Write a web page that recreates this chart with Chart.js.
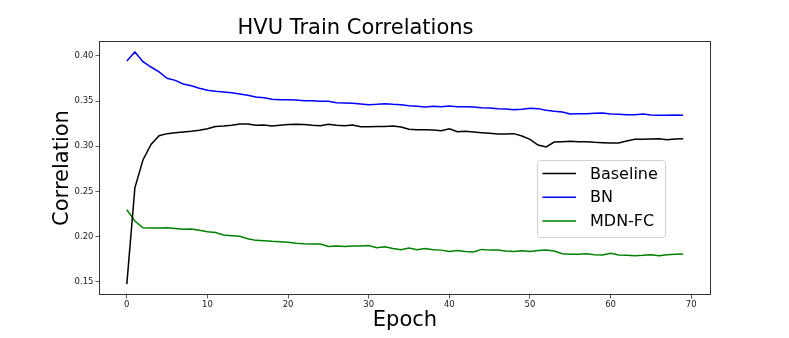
<!DOCTYPE html>
<html>
<head>
<meta charset="utf-8">
<script src="https://cdn.jsdelivr.net/npm/chart.js@4/dist/chart.umd.min.js"></script>
<style>
    html, body { margin: 0; padding: 0; background: #fff; }
    #wrap { width: 789px; height: 338px; }
</style>
</head>
<body>
<div id="wrap"><canvas id="trainCorrelations"></canvas></div>
<script>
const epochs = [0, 1, 2, 3, 4, 5, 6, 7, 8, 9, 10, 11, 12, 13, 14, 15, 16, 17, 18, 19,
    20, 21, 22, 23, 24, 25, 26, 27, 28, 29, 30, 31, 32, 33, 34, 35, 36, 37, 38, 39,
    40, 41, 42, 43, 44, 45, 46, 47, 48, 49, 50, 51, 52, 53, 54, 55, 56, 57, 58, 59,
    60, 61, 62, 63, 64, 65, 66, 67, 68, 69];

const baseline = [0.1474, 0.254, 0.2848, 0.302, 0.3117, 0.314, 0.315, 0.3158, 0.3166, 0.3177,
    0.3195, 0.322, 0.3224, 0.3232, 0.3247, 0.3247, 0.3232, 0.3236, 0.3224, 0.3232,
    0.324, 0.3243, 0.3242, 0.3232, 0.3228, 0.3243, 0.3232, 0.3228, 0.3236, 0.3217,
    0.3217, 0.322, 0.322, 0.3224, 0.3213, 0.3188, 0.3184, 0.3184, 0.318, 0.3173,
    0.3195, 0.3162, 0.3166, 0.3158, 0.3151, 0.3144, 0.3136, 0.3136, 0.314, 0.3114,
    0.3077, 0.3014, 0.2992, 0.3047, 0.3051, 0.3055, 0.3051, 0.3051, 0.3044, 0.304,
    0.3036, 0.3036, 0.3058, 0.3077, 0.3077, 0.308, 0.3084, 0.3073, 0.308, 0.3084];

const bn = [0.3945, 0.4044, 0.3937, 0.3878, 0.3823, 0.3753, 0.373, 0.369, 0.3671, 0.3642,
    0.362, 0.3609, 0.3601, 0.3594, 0.3579, 0.3564, 0.3546, 0.3538, 0.352, 0.3516,
    0.3516, 0.3513, 0.3505, 0.3505, 0.3498, 0.3498, 0.3483, 0.348, 0.3476, 0.3468,
    0.3461, 0.3465, 0.3472, 0.3465, 0.3461, 0.345, 0.3443, 0.3435, 0.3443, 0.3439,
    0.3446, 0.3439, 0.3439, 0.3435, 0.3428, 0.3424, 0.3417, 0.3413, 0.3406, 0.3409,
    0.3421, 0.3417, 0.3398, 0.3387, 0.338, 0.3358, 0.3361, 0.3361, 0.3365, 0.3369,
    0.3358, 0.3354, 0.335, 0.335, 0.3358, 0.3347, 0.3343, 0.3343, 0.3347, 0.3343];

const mdnFc = [0.2297, 0.2172, 0.2098, 0.2095, 0.2095, 0.2098, 0.209, 0.208, 0.2083, 0.2069,
    0.2054, 0.2046, 0.2017, 0.201, 0.2003, 0.1977, 0.1958, 0.1954, 0.1947, 0.1943,
    0.1936, 0.1925, 0.1921, 0.1919, 0.1917, 0.1891, 0.1895, 0.1891, 0.1895, 0.1895,
    0.1902, 0.1876, 0.1887, 0.1869, 0.1854, 0.1872, 0.1854, 0.1869, 0.1854, 0.185,
    0.1836, 0.1847, 0.1836, 0.1829, 0.1858, 0.185, 0.185, 0.184, 0.1836, 0.1843,
    0.1836, 0.1847, 0.185, 0.184, 0.181, 0.1803, 0.1803, 0.181, 0.18, 0.1796,
    0.1814, 0.1796, 0.1792, 0.1788, 0.1792, 0.18, 0.1788, 0.18, 0.1803, 0.1807];

const seriesNames = ['Baseline', 'BN', 'MDN-FC'];
const seriesColors = ['#000000', '#0000ff', '#008000'];
const xTicks = [0, 10, 20, 30, 40, 50, 60, 70];
const yTicks = [0.15, 0.20, 0.25, 0.30, 0.35, 0.40];

const fonte = 'DejaVu Sans';
const corEixo = '#333333';

function montaPontos(valores) {
    return valores.map((v, i) => ({ x: epochs[i], y: v }));
}

function montaDatasets() {
    let todos = [baseline, bn, mdnFc];
    let datasets = [];
    for (let i = 0; i < todos.length; i++) {
        datasets.push({
            label: seriesNames[i],
            data: montaPontos(todos[i]),
            borderColor: seriesColors[i],
            backgroundColor: seriesColors[i],
            borderWidth: 1.5,
            pointRadius: 0,
            tension: 0,
            fill: false
        });
    }
    return datasets;
}

// moldura em volta da area do grafico (estilo matplotlib)
const molduraPlugin = {
    id: 'moldura',
    afterDatasetsDraw(chart) {
        const a = chart.chartArea;
        const ctx = chart.ctx;
        ctx.save();
        ctx.strokeStyle = corEixo;
        ctx.lineWidth = 1;
        ctx.strokeRect(a.left + 0.5, a.top + 0.5, a.right - a.left - 1, a.bottom - a.top - 1);
        ctx.restore();
    }
};

// legenda desenhada dentro da area, a direita
const legendaPlugin = {
    id: 'legendaInterna',
    afterDraw(chart) {
        const a = chart.chartArea;
        const ctx = chart.ctx;
        const caixa = { x: a.right - 174, y: 160, w: 128, h: 77 };
        ctx.save();
        ctx.fillStyle = 'rgba(255,255,255,0.8)';
        ctx.strokeStyle = '#d0d0d0';
        ctx.lineWidth = 1;
        ctx.beginPath();
        ctx.roundRect(caixa.x + 0.5, caixa.y + 0.5, caixa.w, caixa.h, 3);
        ctx.fill();
        ctx.stroke();

        ctx.font = '16px "' + fonte + '"';
        ctx.textBaseline = 'middle';
        ctx.textAlign = 'left';
        chart.data.datasets.forEach((ds, i) => {
            const y = caixa.y + 13.5 + i * 23.7;
            ctx.strokeStyle = ds.borderColor;
            ctx.lineWidth = 1.5;
            ctx.beginPath();
            ctx.moveTo(caixa.x + 5.5, y);
            ctx.lineTo(caixa.x + 39, y);
            ctx.stroke();
            ctx.fillStyle = '#000';
            ctx.fillText(ds.label, caixa.x + 53, y + 1);
        });
        ctx.restore();
    }
};

function renderizaGrafico() {
    const ctx = document.getElementById('trainCorrelations').getContext('2d');
    window.graficoTreino = new Chart(ctx, {
        type: 'line',
        data: { datasets: montaDatasets() },
        options: {
            responsive: true,
            maintainAspectRatio: false,
            animation: false,
            layout: { padding: { left: 0, right: 78, top: 0, bottom: 0 } },
            plugins: {
                legend: { display: false },
                tooltip: { enabled: false },
                title: {
                    display: true,
                    text: 'HVU Train Correlations',
                    color: '#000',
                    font: { family: fonte, size: 21, weight: 'normal', lineHeight: 1.2 },
                    padding: { top: 15.8, bottom: 0 }
                }
            },
            scales: {
                x: {
                    type: 'linear',
                    min: -3.45,
                    max: 72.45,
                    afterBuildTicks: (s) => { s.ticks = xTicks.map(v => ({ value: v })); },
                    afterFit: (s) => { s.height = 43; },
                    grid: { drawOnChartArea: false, drawTicks: true, tickLength: 3.5, tickColor: corEixo, tickWidth: 0.8 },
                    border: { display: false },
                    ticks: {
                        color: '#222',
                        padding: 1,
                        maxRotation: 0,
                        font: { family: fonte, size: 8.5 },
                        callback: (v) => v
                    },
                    title: {
                        display: true,
                        text: 'Epoch',
                        color: '#000',
                        font: { family: fonte, size: 21, lineHeight: 1.2 },
                        padding: { top: 0, bottom: 5 }
                    }
                },
                y: {
                    min: 0.1353,
                    max: 0.4166,
                    afterBuildTicks: (s) => { s.ticks = yTicks.map(v => ({ value: v })); },
                    afterFit: (s) => { s.width = 99; },
                    grid: { drawOnChartArea: false, drawTicks: true, tickLength: 3.5, tickColor: corEixo, tickWidth: 0.8 },
                    border: { display: false },
                    ticks: {
                        color: '#222',
                        padding: 2,
                        font: { family: fonte, size: 8.5 },
                        callback: (v) => v.toFixed(2)
                    },
                    title: {
                        display: true,
                        text: 'Correlation',
                        color: '#000',
                        font: { family: fonte, size: 21, lineHeight: 1.2 },
                        padding: { top: 50, bottom: 0 }
                    }
                }
            }
        },
        plugins: [molduraPlugin, legendaPlugin]
    });
}

window.onload = function() {
    renderizaGrafico();
}
</script>
</body>
</html>
